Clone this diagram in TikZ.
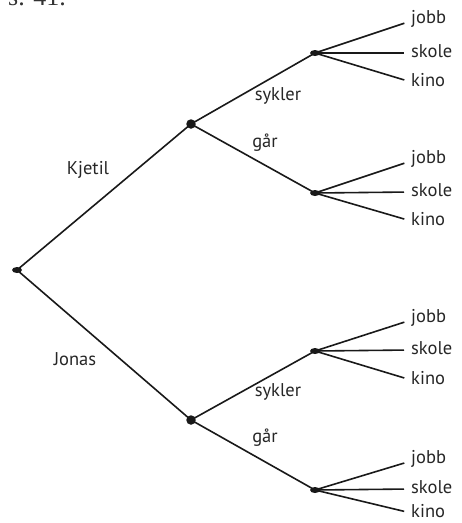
\documentclass[tikz,border=0pt]{standalone}
\usepackage{fontspec}
\usetikzlibrary{shapes.geometric}
\setmainfont{PT Sans}
\newfontfamily\pagefont{Liberation Serif}
\begin{document}
\begin{tikzpicture}[x=1pt,y=-1pt,
  edge/.style={line width=1.6pt, black!90},
  bigdot/.style={circle, fill=black!90, inner sep=0pt, minimum size=9.5pt},
  smalldot/.style={ellipse, fill=black!90, inner sep=0pt, minimum width=10pt, minimum height=6pt},
  lbl/.style={font=\fontsize{18.5}{22}\selectfont, text=black!85, inner sep=0pt},
  leaf/.style={lbl, anchor=west}]
\useasboundingbox (0,0) rectangle (462,523);
\clip (0,0) rectangle (462,523);
\node[anchor=base west, inner sep=0pt, font=\pagefont\fontsize{26}{28}\selectfont, text=black!80] (pg) at (8,5) {s. 41.};
% nodes
\node[smalldot] (r) at (17,270) {};
\node[bigdot] (k) at (191,124) {};
\node[bigdot] (j) at (191,420) {};
\node[smalldot] (k1) at (315,53) {};
\node[smalldot] (k2) at (315,193) {};
\node[smalldot] (j1) at (315,351) {};
\node[smalldot] (j2) at (315,490) {};
% leaves
\node[leaf] (k1a) at (411,19) {jobb};
\node[leaf] (k1b) at (411,51) {skole};
\node[leaf] (k1c) at (411,80) {kino};
\node[leaf] (k2a) at (411,159) {jobb};
\node[leaf] (k2b) at (411,190) {skole};
\node[leaf] (k2c) at (411,219) {kino};
\node[leaf] (j1a) at (411,318) {jobb};
\node[leaf] (j1b) at (411,348) {skole};
\node[leaf] (j1c) at (411,378) {kino};
\node[leaf] (j2a) at (411,459) {jobb};
\node[leaf] (j2b) at (411,487) {skole};
\node[leaf] (j2c) at (411,511) {kino};
% edge labels
\node[lbl] (lk) at (88,170) {Kjetil};
\node[lbl] (lj) at (75,359) {Jonas};
\node[lbl] (s1) at (278,96) {sykler};
\node[lbl] (g1) at (265,143) {går};
\node[lbl] (s2) at (278,392) {sykler};
\node[lbl] (g2) at (265,438) {går};
% edges
\draw[edge] (r.center) -- (k.center);
\draw[edge] (r.center) -- (j.center);
\draw[edge] (k.center) -- (k1.center);
\draw[edge] (k.center) -- (k2.center);
\draw[edge] (j.center) -- (j1.center);
\draw[edge] (j.center) -- (j2.center);
\foreach \p in {k1,k2,j1,j2}{
  \foreach \q in {a,b,c}{
    \draw[edge, shorten >=7pt] (\p.center) -- ([yshift=-2pt]\p\q.west);
  }
}
\end{tikzpicture}
\end{document}
